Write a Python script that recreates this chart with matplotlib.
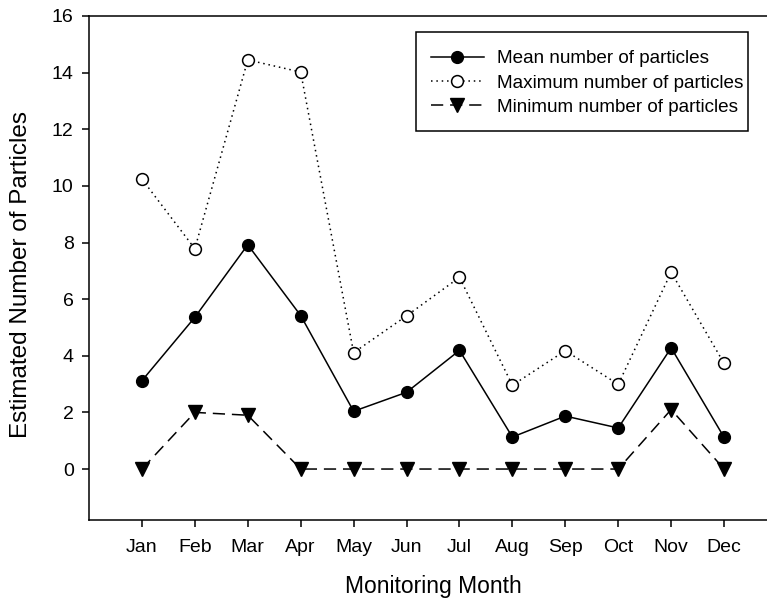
import matplotlib
matplotlib.use('Agg')
import matplotlib.pyplot as plt
from matplotlib.patches import Rectangle

plt.rcParams['font.family'] = ['Liberation Sans', 'DejaVu Sans']

months = ['Jan', 'Feb', 'Mar', 'Apr', 'May', 'Jun', 'Jul', 'Aug', 'Sep', 'Oct', 'Nov', 'Dec']
mean_particles = [3.12, 5.36, 7.92, 5.42, 2.04, 2.71, 4.19, 1.13, 1.87, 1.45, 4.28, 1.12]
max_particles = [10.24, 7.78, 14.45, 14.02, 4.11, 5.41, 6.77, 2.96, 4.18, 2.99, 6.95, 3.73]
min_particles = [0, 2.0, 1.9, 0, 0, 0, 0, 0, 0, 0, 2.1, 0]

x = list(range(1, len(months) + 1))

W, H = 767, 603
fig = plt.figure(figsize=(W / 100, H / 100), dpi=100)
# right spine sits just past the figure edge
ax = fig.add_axes([89 / W, 83 / H, 688 / W, 504 / H])

ax.plot(x, mean_particles, color='black', lw=1.1, ls='-', marker='o',
        ms=8.5, mfc='black', mec='black', label='Mean number of particles')
ax.plot(x, max_particles, color='black', lw=1.1, ls=(0, (1, 2.5)), marker='o',
        ms=8.5, mfc='white', mec='black', mew=1.1, label='Maximum number of particles')
ax.plot(x, min_particles, color='black', lw=1.1, ls=(0, (8, 4.5)), marker='v',
        ms=9.5, mfc='black', mec='black', label='Minimum number of particles')

ax.set_xlim(0, 13)
ax.set_ylim(-1.8, 16)
ax.set_xticks(x)
ax.set_xticklabels(months)
ax.set_yticks(range(0, 17, 2))

for side in ax.spines.values():
    side.set_linewidth(1.1)
ax.tick_params(direction='out', length=5, width=1.1, labelsize=14, pad=6,
               top=False, right=False)
ax.tick_params(axis='x', pad=9)

ax.set_xlabel('Monitoring Month', fontsize=16.5, labelpad=13)
ax.set_ylabel('Estimated Number of Particles', fontsize=17.5)
ax.yaxis.set_label_coords(-0.083, 0.488)

# legend box: tight on the right like the original plotting package
box = Rectangle(((416 - 89) / 688, (520 - 131) / 504), (748 - 416) / 688, (131 - 32) / 504,
                transform=ax.transAxes, facecolor='white', edgecolor='black',
                lw=1.1, zorder=4)
ax.add_patch(box)
leg = ax.legend(loc='upper left', bbox_to_anchor=((431 - 89) / 688, (520 - 50) / 504),
                borderaxespad=0, borderpad=0, fontsize=13.6, numpoints=1,
                handlelength=2.8, handletextpad=0.7, labelspacing=0.38,
                frameon=False)
leg.set_zorder(5)

fig.savefig('out.png', dpi=100)
